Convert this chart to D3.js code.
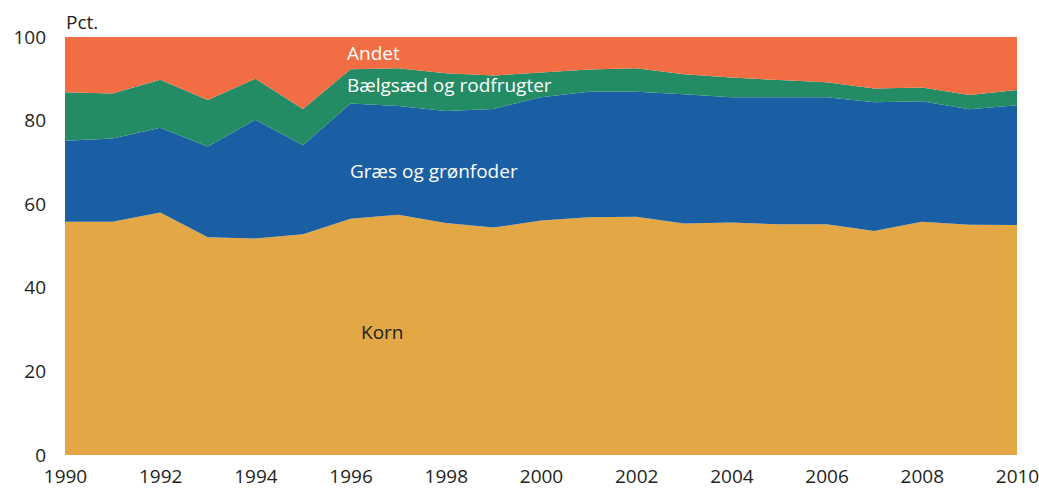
<!DOCTYPE html>
<html>
<head>
<meta charset="utf-8">
<script src="https://cdn.jsdelivr.net/npm/d3@7"></script>
<style>
  body { margin: 0; background: #fff; }
  svg text { font-family: "Open Sans", sans-serif; }
</style>
</head>
<body>
<svg width="1039" height="493"></svg>
<script>
var years = d3.range(1990, 2011);
var korn =     [55.8,55.8,58.0,52.1,51.8,52.8,56.5,57.5,55.5,54.4,56.1,56.9,57.0,55.4,55.6,55.2,55.2,53.6,55.8,55.1,55.0];
var graes =    [19.4,19.9,20.3,21.7,28.4,21.3,27.6,26.0,26.8,28.4,29.5,30.0,29.9,30.9,30.0,30.4,30.4,30.8,28.8,27.6,28.7];
var baelgsaed =[11.6,10.8,11.5,11.1, 9.8, 8.7, 8.2, 9.0, 9.0, 8.0, 5.9, 5.3, 5.6, 4.8, 4.7, 4.1, 3.6, 3.3, 3.3, 3.4, 3.6];
var keys = ["korn", "graes", "baelgsaed", "andet"];
var colors = { korn: "#e3a845", graes: "#1a5fa3", baelgsaed: "#248c65", andet: "#f26d43" };
var yTicks = [0, 20, 40, 60, 80, 100];
var xTicks = d3.range(1990, 2011, 2);

var rows = years.map(function(y, i) {
  return { year: y, korn: korn[i], graes: graes[i], baelgsaed: baelgsaed[i],
           andet: 100 - korn[i] - graes[i] - baelgsaed[i] };
});

var svg = d3.select("svg");
var x = d3.scaleLinear().domain([1990, 2010]).range([65, 1017]);
var y = d3.scaleLinear().domain([0, 100]).range([455, 37]);

var series = d3.stack().keys(keys)(rows);
var area = d3.area()
    .x(function(d) { return x(d.data.year); })
    .y0(function(d) { return y(d[0]); })
    .y1(function(d) { return y(d[1]); });

svg.append("g").selectAll("path")
  .data(series)
  .enter().append("path")
    .attr("fill", function(d) { return colors[d.key]; })
    .attr("d", area);

// axes, labels only
var yAxis = svg.append("g")
    .attr("transform", "translate(46,0)")
    .call(d3.axisLeft(y).tickValues(yTicks).tickSize(0).tickPadding(0));
yAxis.select(".domain").remove();
yAxis.selectAll("text")
    .attr("font-size", 19).attr("fill", "#231f20")
    .attr("font-family", "Open Sans, sans-serif");

var xAxis = svg.append("g")
    .attr("transform", "translate(0,469)")
    .call(d3.axisBottom(x).tickValues(xTicks).tickFormat(d3.format("d")).tickSize(0).tickPadding(0));
xAxis.select(".domain").remove();
xAxis.selectAll("text")
    .attr("font-size", 19).attr("fill", "#231f20")
    .attr("font-family", "Open Sans, sans-serif");

svg.append("text").attr("x", 66).attr("y", 29)
   .attr("font-size", 19).attr("fill", "#231f20").text("Pct.");

var labels = [
  { t: "Andet", x: 347, y: 60, c: "#fff" },
  { t: "Bælgsæd og rodfrugter", x: 347, y: 92, c: "#fff" },
  { t: "Græs og grønfoder", x: 350, y: 178, c: "#fff" },
  { t: "Korn", x: 361, y: 339, c: "#231f20" }
];
svg.selectAll("text.lab")
  .data(labels)
  .enter().append("text")
    .attr("class", "lab")
    .attr("x", function(d) { return d.x; })
    .attr("y", function(d) { return d.y; })
    .attr("font-size", 19)
    .attr("fill", function(d) { return d.c; })
    .text(function(d) { return d.t; });
</script>
</body>
</html>
